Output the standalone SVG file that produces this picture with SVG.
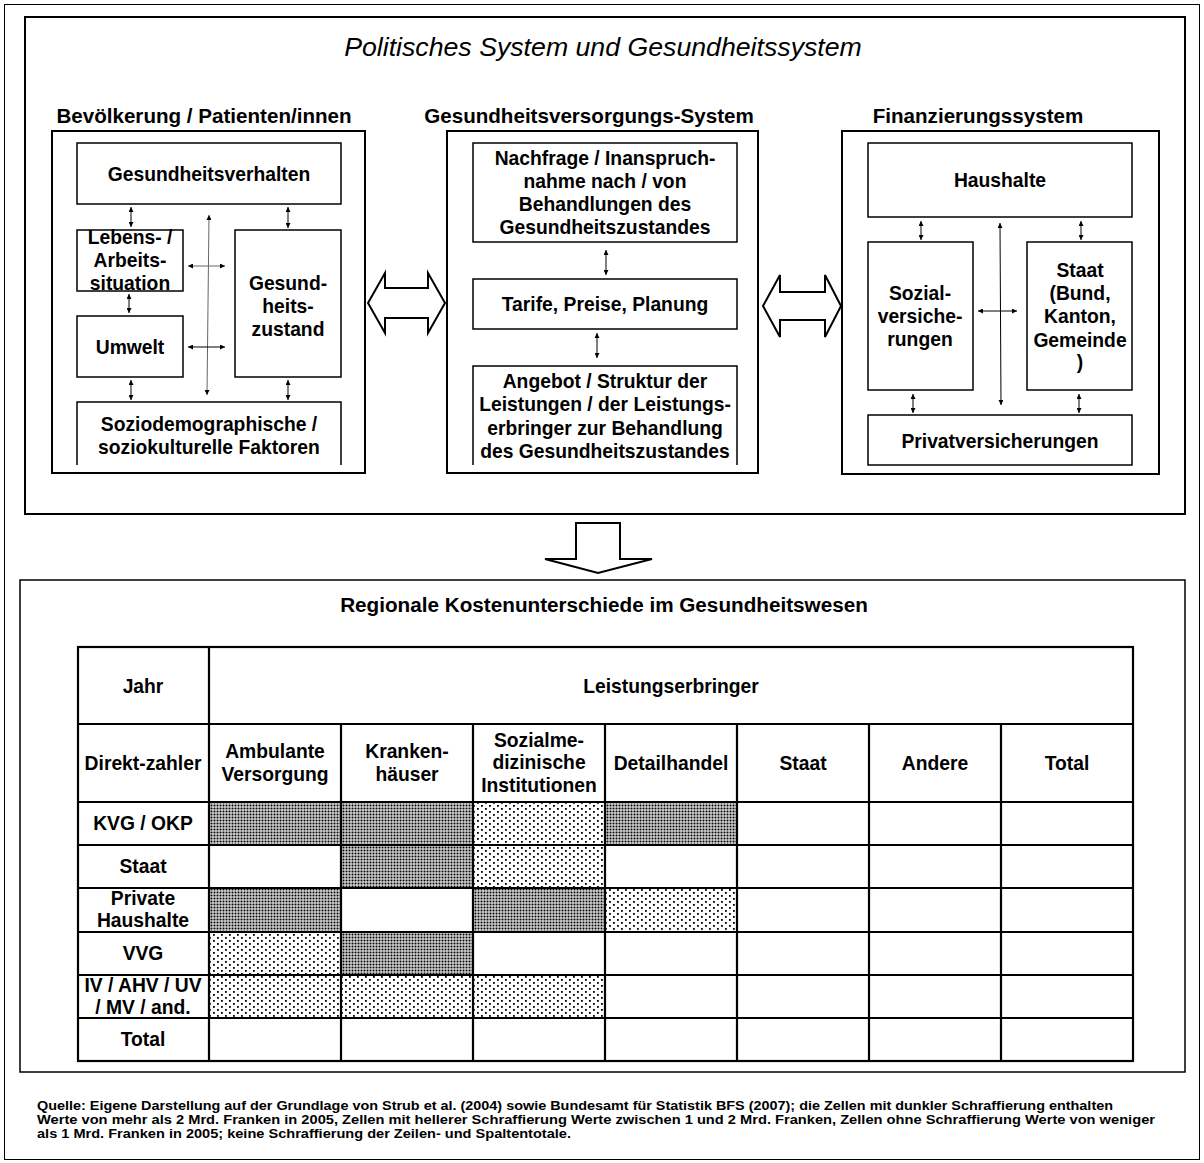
<svg xmlns="http://www.w3.org/2000/svg" width="1204" height="1163" viewBox="0 0 1204 1163">
<style>
text{font-family:"Liberation Sans",Arial,sans-serif;font-weight:bold;fill:#000;text-anchor:middle}
.t17{font-size:19.3px}
.h18{font-size:20.6px}
.box{fill:#fff;stroke:#000;stroke-width:1.5}
.panel{fill:none;stroke:#000;stroke-width:2}
.ln{stroke:#000;stroke-width:1;fill:none}
.gr{stroke:#666}
.big{fill:#fff;stroke:#000;stroke-width:2;stroke-linejoin:miter}
.grid{stroke:#000;stroke-width:2.2;fill:none}
.foot{font-size:12.6px;text-anchor:start}
</style>
<defs>
<marker id="ah" viewBox="0 0 6 6" refX="6" refY="3" markerWidth="5" markerHeight="5" orient="auto-start-reverse" markerUnits="userSpaceOnUse">
<path d="M0,0 L6,3 L0,6 z" fill="#000"/>
</marker>
<pattern id="dark" width="3" height="3" patternUnits="userSpaceOnUse">
<rect width="3" height="3" fill="#fff"/>
<rect x="0.5" y="0.5" width="2" height="2" fill="#000"/>
</pattern>
<pattern id="light" width="8" height="6" patternUnits="userSpaceOnUse">
<rect width="8" height="6" fill="#fff"/>
<rect x="1" y="1" width="1.8" height="1.8" fill="#000"/>
<rect x="5" y="4" width="1.8" height="1.8" fill="#000"/>
</pattern>
</defs>
<rect width="1204" height="1163" fill="#fff"/>
<rect x="4.5" y="4.5" width="1195" height="1155" fill="none" stroke="#000" stroke-width="1"/>

<g id="top-frame">
<rect x="25" y="17" width="1160" height="497" class="panel"/>
<text x="603" y="56" style="font-size:26.7px;font-weight:normal;font-style:italic">Politisches System und Gesundheitssystem</text>
</g>

<g id="panel-bevoelkerung">
<text x="204" y="123" class="h18">Bevölkerung / Patienten/innen</text>
<rect x="52" y="131" width="313" height="342" class="panel"/>
</g>
<g id="n-gesundheitsverhalten"><rect x="77" y="143" width="264" height="61" class="box"/><text x="209" y="181" class="t17">Gesundheitsverhalten</text></g>
<g id="n-lebens"><rect x="77" y="230" width="106" height="61" class="box"/><text x="130" y="244" class="t17">Lebens- /</text><text x="130" y="267" class="t17">Arbeits-</text><text x="130" y="290" class="t17">situation</text></g>
<g id="n-umwelt"><rect x="77" y="316" width="106" height="61" class="box"/><text x="130" y="354" class="t17">Umwelt</text></g>
<g id="n-gesundheitszustand"><rect x="235" y="230" width="106" height="147" class="box"/><text x="288" y="290" class="t17">Gesund-</text><text x="288" y="313" class="t17">heits-</text><text x="288" y="336" class="t17">zustand</text></g>
<g id="n-sozio"><path d="M77,465 V402 H341 V465" class="box"/><text x="209" y="431" class="t17">Soziodemographische /</text><text x="209" y="454" class="t17">soziokulturelle Faktoren</text></g>

<g id="panel-versorgung">
<text x="589" y="123" class="h18">Gesundheitsversorgungs-System</text>
<rect x="447" y="131" width="311" height="342" class="panel"/>
</g>
<g id="n-nachfrage"><rect x="473" y="143" width="264" height="99" class="box"/><text x="605" y="165" class="t17">Nachfrage / Inanspruch-</text><text x="605" y="188" class="t17">nahme nach / von</text><text x="605" y="211" class="t17">Behandlungen des</text><text x="605" y="234" class="t17">Gesundheitszustandes</text></g>
<g id="n-tarife"><rect x="473" y="279" width="264" height="50" class="box"/><text x="605" y="311" class="t17">Tarife, Preise, Planung</text></g>
<g id="n-angebot"><path d="M473,465 V366 H737 V465" class="box"/><text x="605" y="388" class="t17">Angebot / Struktur der</text><text x="605" y="411" class="t17">Leistungen / der Leistungs-</text><text x="605" y="435" class="t17">erbringer zur Behandlung</text><text x="605" y="458" class="t17">des Gesundheitszustandes</text></g>

<g id="panel-finanzierung">
<text x="978" y="123" class="h18">Finanzierungssystem</text>
<rect x="842" y="131" width="317" height="343" class="panel"/>
</g>
<g id="n-haushalte"><rect x="868" y="143" width="264" height="74" class="box"/><text x="1000" y="187" class="t17">Haushalte</text></g>
<g id="n-sozialvers"><rect x="868" y="242" width="105" height="148" class="box"/><text x="920" y="300" class="t17">Sozial-</text><text x="920" y="323" class="t17">versiche-</text><text x="920" y="346" class="t17">rungen</text></g>
<g id="n-staat"><rect x="1027" y="242" width="105" height="148" class="box"/><text x="1080" y="277" class="t17">Staat</text><text x="1080" y="300" class="t17">(Bund,</text><text x="1080" y="323" class="t17">Kanton,</text><text x="1080" y="347" class="t17">Gemeinde</text><text x="1080" y="369" class="t17">)</text></g>
<g id="n-privat"><rect x="868" y="415" width="264" height="50" class="box"/><text x="1000" y="448" class="t17">Privatversicherungen</text></g>

<g id="connectors">
<line x1="131" y1="207" x2="131" y2="227" class="ln" marker-start="url(#ah)" marker-end="url(#ah)"/>
<line x1="288" y1="207" x2="288" y2="228" class="ln" marker-start="url(#ah)" marker-end="url(#ah)"/>
<line x1="129" y1="294" x2="129" y2="313" class="ln" marker-start="url(#ah)" marker-end="url(#ah)"/>
<line x1="131" y1="380" x2="131" y2="400" class="ln" marker-start="url(#ah)" marker-end="url(#ah)"/>
<line x1="288" y1="380" x2="288" y2="400" class="ln" marker-start="url(#ah)" marker-end="url(#ah)"/>
<line x1="209" y1="215" x2="207" y2="395" class="ln gr" marker-start="url(#ah)" marker-end="url(#ah)"/>
<line x1="188" y1="266" x2="225" y2="266" class="ln gr" marker-start="url(#ah)" marker-end="url(#ah)"/>
<line x1="188" y1="347" x2="225" y2="347" class="ln" marker-start="url(#ah)" marker-end="url(#ah)"/>
<line x1="606" y1="250" x2="606" y2="275" class="ln" marker-start="url(#ah)" marker-end="url(#ah)"/>
<line x1="597" y1="333" x2="597" y2="358" class="ln" marker-start="url(#ah)" marker-end="url(#ah)"/>
<line x1="921" y1="221" x2="921" y2="240" class="ln" marker-start="url(#ah)" marker-end="url(#ah)"/>
<line x1="1081" y1="221" x2="1081" y2="240" class="ln" marker-start="url(#ah)" marker-end="url(#ah)"/>
<line x1="913" y1="394" x2="913" y2="413" class="ln" marker-start="url(#ah)" marker-end="url(#ah)"/>
<line x1="1079" y1="394" x2="1079" y2="413" class="ln" marker-start="url(#ah)" marker-end="url(#ah)"/>
<line x1="1000" y1="223" x2="1001" y2="405" class="ln" marker-start="url(#ah)" marker-end="url(#ah)"/>
<line x1="978" y1="311" x2="1017" y2="311" class="ln" marker-start="url(#ah)" marker-end="url(#ah)"/>
<polygon class="big" points="368,303 385,273 385,288 428,288 428,273 445,303 428,333 428,318 385,318 385,333"/>
<polygon class="big" points="763,306 780,275 780,292 825,292 825,275 841,306 825,337 825,320 780,320 780,337"/>
<polygon class="big" points="576,523 620,523 620,559 652,559 598,573 545,559 576,559"/>
</g>

<g id="cost-table">
<rect x="20" y="580" width="1165" height="492" fill="none" stroke="#000" stroke-width="1.5"/>
<text x="604" y="612" style="font-size:20.7px">Regionale Kostenunterschiede im Gesundheitswesen</text>
<g id="hatching">
<rect x="209" y="802" width="132" height="43" fill="url(#dark)"/>
<rect x="341" y="802" width="132" height="43" fill="url(#dark)"/>
<rect x="473" y="802" width="132" height="43" fill="url(#light)"/>
<rect x="605" y="802" width="132" height="43" fill="url(#dark)"/>
<rect x="341" y="845" width="132" height="43" fill="url(#dark)"/>
<rect x="473" y="845" width="132" height="43" fill="url(#light)"/>
<rect x="209" y="888" width="132" height="44" fill="url(#dark)"/>
<rect x="473" y="888" width="132" height="44" fill="url(#dark)"/>
<rect x="605" y="888" width="132" height="44" fill="url(#light)"/>
<rect x="209" y="932" width="132" height="43" fill="url(#light)"/>
<rect x="341" y="932" width="132" height="43" fill="url(#dark)"/>
<rect x="209" y="975" width="132" height="43" fill="url(#light)"/>
<rect x="341" y="975" width="132" height="43" fill="url(#light)"/>
<rect x="473" y="975" width="132" height="43" fill="url(#light)"/>
</g>
<g id="grid">
<rect x="78" y="647" width="1055" height="414" class="grid"/>
<path class="grid" d="M78,724H1133 M78,802H1133 M78,845H1133 M78,888H1133 M78,932H1133 M78,975H1133 M78,1018H1133 M209,647V1061 M341,724V1061 M473,724V1061 M605,724V1061 M737,724V1061 M869,724V1061 M1001,724V1061"/>
</g>
<g id="table-text">
<text x="143" y="693" class="t17">Jahr</text>
<text x="671" y="693" class="t17">Leistungserbringer</text>
<text x="143" y="770" class="t17">Direkt-zahler</text>
<text x="275" y="758" class="t17">Ambulante</text><text x="275" y="781" class="t17">Versorgung</text>
<text x="407" y="758" class="t17">Kranken-</text><text x="407" y="781" class="t17">häuser</text>
<text x="539" y="747" class="t17">Sozialme-</text><text x="539" y="769" class="t17">dizinische</text><text x="539" y="792" class="t17">Institutionen</text>
<text x="671" y="770" class="t17">Detailhandel</text>
<text x="803" y="770" class="t17">Staat</text>
<text x="935" y="770" class="t17">Andere</text>
<text x="1067" y="770" class="t17">Total</text>
<text x="143" y="830" class="t17">KVG / OKP</text>
<text x="143" y="873" class="t17">Staat</text>
<text x="143" y="905" class="t17">Private</text><text x="143" y="927" class="t17">Haushalte</text>
<text x="143" y="960" class="t17">VVG</text>
<text x="143" y="992" class="t17">IV / AHV / UV</text><text x="143" y="1014" class="t17">/ MV / and.</text>
<text x="143" y="1046" class="t17">Total</text>
</g>
</g>

<g id="footnote">
<text x="37" y="1110" class="foot" textLength="1076" lengthAdjust="spacingAndGlyphs">Quelle: Eigene Darstellung auf der Grundlage von Strub et al. (2004) sowie Bundesamt für Statistik BFS (2007); die Zellen mit dunkler Schraffierung enthalten</text>
<text x="37" y="1124" class="foot" textLength="1118" lengthAdjust="spacingAndGlyphs">Werte von mehr als 2 Mrd. Franken in 2005, Zellen mit hellerer Schraffierung Werte zwischen 1 und 2 Mrd. Franken, Zellen ohne Schraffierung Werte von weniger</text>
<text x="37" y="1138" class="foot" textLength="534" lengthAdjust="spacingAndGlyphs">als 1 Mrd. Franken in 2005; keine Schraffierung der Zeilen- und Spaltentotale.</text>
</g>
</svg>
